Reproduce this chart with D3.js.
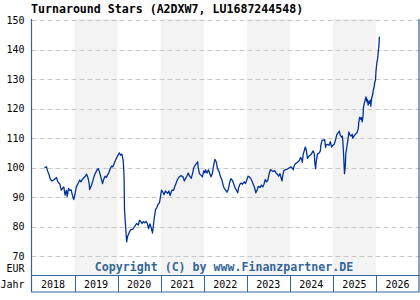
<!DOCTYPE html>
<html>
<head>
<meta charset="utf-8">
<script src="https://cdn.jsdelivr.net/npm/d3@7"></script>
<style>
  body { margin: 0; background: #fff; }
  text { font-family: "DejaVu Sans Mono", monospace; }
</style>
</head>
<body>
<div id="chart"></div>
<script>
// fund price (EUR), time as decimal years
const dates = [
  2018.30,2018.35,2018.37,2018.40,2018.44,2018.48,2018.53,2018.58,2018.61,2018.66,2018.69,2018.72,2018.75,2018.78,2018.81,2018.83,2018.86,2018.89,2018.92,2018.95,2018.98,
  2019.01,2019.04,2019.09,2019.12,2019.15,2019.18,2019.21,2019.25,2019.28,2019.31,2019.34,2019.35,2019.39,2019.42,2019.45,2019.48,2019.52,2019.55,2019.58,2019.62,2019.65,2019.68,2019.71,2019.74,2019.77,2019.79,2019.83,2019.86,2019.89,2019.92,2019.95,2019.98,
  2020.01,2020.04,2020.07,2020.10,2020.13,2020.15,2020.16,2020.20,2020.21,2020.23,2020.26,2020.30,2020.35,2020.40,2020.44,2020.48,2020.51,2020.54,2020.57,2020.60,2020.63,2020.66,2020.69,2020.72,2020.75,2020.78,2020.81,2020.85,2020.88,2020.91,2020.94,2020.97,2020.99,
  2021.02,2021.05,2021.08,2021.11,2021.16,2021.19,2021.22,2021.26,2021.30,2021.33,2021.36,2021.39,2021.43,2021.47,2021.52,2021.55,2021.58,2021.61,2021.64,2021.67,2021.71,2021.74,2021.77,2021.80,2021.83,2021.86,2021.87,2021.90,2021.94,2021.97,
  2022.00,2022.03,2022.04,2022.08,2022.11,2022.14,2022.17,2022.20,2022.23,2022.26,2022.29,2022.32,2022.36,2022.39,2022.42,2022.45,2022.48,2022.51,2022.54,2022.57,2022.60,2022.63,2022.66,2022.69,2022.73,2022.76,2022.79,2022.81,2022.84,2022.87,2022.90,2022.94,2022.97,
  2023.00,2023.03,2023.06,2023.09,2023.12,2023.15,2023.18,2023.21,2023.24,2023.27,2023.31,2023.34,2023.37,2023.40,2023.43,2023.46,2023.49,2023.52,2023.55,2023.58,2023.61,2023.65,2023.68,2023.71,2023.74,2023.77,2023.80,2023.82,2023.83,2023.86,2023.89,2023.92,2023.96,2023.99,
  2024.02,2024.05,2024.08,2024.10,2024.13,2024.16,2024.19,2024.22,2024.25,2024.28,2024.29,2024.31,2024.34,2024.36,2024.38,2024.40,2024.41,2024.44,2024.47,2024.50,2024.54,2024.57,2024.58,2024.60,2024.61,2024.64,2024.68,2024.71,2024.72,2024.75,2024.78,2024.81,2024.83,2024.84,2024.87,2024.91,2024.94,2024.97,
  2025.00,2025.03,2025.06,2025.09,2025.12,2025.15,2025.17,2025.20,2025.22,2025.23,2025.25,2025.26,2025.27,2025.29,2025.30,2025.33,2025.35,2025.37,2025.39,2025.42,2025.45,2025.46,2025.49,2025.52,2025.56,2025.59,2025.60,2025.62,2025.65,2025.66,2025.68,2025.70,2025.71,2025.73,2025.76,2025.77,2025.79,2025.80,2025.82,2025.84,2025.85,2025.87,2025.88,2025.90,2025.91,2025.93,2025.94,2025.96,2025.97,2025.99,
  2026.00,2026.02,2026.04,2026.05,2026.07,2026.08
];
const prices = [
  100,100.3,99,98,96,95.5,96,96.7,95.3,94.4,92.4,93,93.5,90.7,92.3,90.3,93,92.3,92.5,90.7,89.2,
  91,93.5,94.9,95.8,95.2,96,96.5,97.1,97.8,96.7,94.6,92.6,94,95.2,96.9,98,99.2,99.7,98.5,96.3,94.6,96.2,97.1,96.7,97.8,98,99.7,100.5,100.3,101.4,102.5,103.4,
  104.2,105,104.2,104.6,102.5,96.9,85.6,77.1,74.9,76.6,77.7,79,79.1,80.2,81.1,80.6,82.2,81.7,81.1,81.8,81.3,81.8,81.1,79.4,81,79.7,77.9,82.8,85.8,86.5,87.6,88,89.6,
  92.4,91.7,90.9,92.1,91.3,92.1,90.6,92.4,92.3,93.7,94.8,96,96.9,97.3,96.9,95.5,96.4,97.2,98.2,97.2,96.4,98,100,100.8,101.4,102,100.3,98,97.4,96.9,
  98.9,98.2,99.3,98.2,99.3,98,96.9,98,100.8,102.8,102,99.7,98.5,96.9,96,94.1,92.9,92.4,91.7,92.6,94.8,96.3,95.8,94.8,93.1,92.4,91.5,93.2,94.4,94.8,94.4,95.2,94.6,
  95.8,97.1,96.9,96.4,95.5,94.4,93.3,91.5,92.4,93.7,93.3,94.1,93.5,94.4,96,95.2,95.8,98,99.4,99,98.7,99,98.2,97.8,97.1,98,96.4,95.5,96.9,99,99.3,99.4,99.7,100,
  100.3,100,99.3,100.6,101.4,101.6,102,102.4,103.5,102.6,101.8,104.5,106,107,106.1,104.2,103.1,103.9,104.2,104.6,105.7,104.6,101.6,99.7,101.6,104.6,105,105.7,107.6,109.3,109.3,109.5,106.8,107.6,107.9,107.6,108.8,107,
  107.6,107.9,109.3,111.1,111.8,112.4,111.1,110.3,110.7,109.3,104.2,100.8,98,100.8,104.8,107.6,109.3,112.1,111.3,110.7,111.3,110,110.7,111.3,111.8,113.3,115.2,117,116.4,117,115.5,117.5,120.4,121.8,123.5,124,122.3,123.1,121.2,122.5,121.8,122.9,120.8,123.5,124,125.2,126.3,127.6,128.8,129.7,
  132.5,135.3,137,138.6,141.5,144.3
];

const yTicks = [70, 80, 90, 100, 110, 120, 130, 140, 150];
const years = [2018, 2019, 2020, 2021, 2022, 2023, 2024, 2025, 2026];
const shadedYears = [2019, 2021, 2023, 2025];

const title = "Turnaround Stars (A2DXW7, LU1687244548)";
const copyright = "Copyright (C) by www.Finanzpartner.DE";

// layout
const width = 420, height = 300;
const box = {left: 31.5, right: 419, top: 19, plotBottom: 275, bottom: 292};
const frameColor = "#336699";

const svg = d3.select("#chart")
  .append("svg")
  .attr("width", width)
  .attr("height", height);

const x = d3.scaleLinear().domain([2018, 2027]).range([box.left, box.right]);
const y = d3.scaleLinear().domain([70, 150]).range([256.3, 20]);

// alternating year bands
svg.append("g")
  .selectAll("rect")
  .data(shadedYears)
  .join("rect")
  .attr("x", d => x(d))
  .attr("y", box.top)
  .attr("width", d => x(d + 1) - x(d))
  .attr("height", box.plotBottom - box.top)
  .attr("fill", "#f3f3f3");

// dashed grid
svg.append("g")
  .selectAll("line")
  .data(yTicks)
  .join("line")
  .attr("x1", box.left)
  .attr("x2", box.right)
  .attr("y1", d => Math.round(y(d)) + 0.5)
  .attr("y2", d => Math.round(y(d)) + 0.5)
  .attr("stroke", "#c8c8c8")
  .attr("stroke-dasharray", "5,3");

// y labels on the left
svg.append("g")
  .attr("transform", `translate(${box.left},0)`)
  .call(d3.axisLeft(y).tickValues(yTicks).tickSize(0).tickPadding(7))
  .call(g => g.select(".domain").remove())
  .call(g => g.selectAll("text")
    .style("font-family", "'DejaVu Sans Mono', monospace")
    .style("font-size", "10px")
    .attr("fill", "#000"));

svg.append("text")
  .attr("x", 24.5)
  .attr("y", 271.5)
  .attr("text-anchor", "end")
  .style("font-size", "10px")
  .text("EUR");

// price line
const line = d3.line()
  .x(d => x(d[0]))
  .y(d => y(d[1]));

svg.append("path")
  .datum(d3.zip(dates, prices))
  .attr("fill", "none")
  .attr("stroke", "#003399")
  .attr("stroke-width", 1.3)
  .attr("stroke-linejoin", "round")
  .attr("d", line);

// copyright
svg.append("text")
  .attr("x", 224)
  .attr("y", 271)
  .attr("text-anchor", "middle")
  .attr("fill", frameColor)
  .style("font-size", "11.6px")
  .style("font-weight", "bold")
  .text(copyright);

// year row
svg.append("rect")
  .attr("x", box.left)
  .attr("y", box.plotBottom)
  .attr("width", box.right - box.left)
  .attr("height", box.bottom - box.plotBottom)
  .attr("fill", "#fff");

svg.append("g")
  .selectAll("line")
  .data(years.slice(1))
  .join("line")
  .attr("x1", d => Math.round(x(d)) + 0.5)
  .attr("x2", d => Math.round(x(d)) + 0.5)
  .attr("y1", box.plotBottom)
  .attr("y2", box.bottom)
  .attr("stroke", frameColor);

svg.append("g")
  .selectAll("text")
  .data(years)
  .join("text")
  .attr("x", d => x(d + 0.5))
  .attr("y", 288)
  .attr("text-anchor", "middle")
  .style("font-size", "10px")
  .text(d => d);

svg.append("text")
  .attr("x", 24.5)
  .attr("y", 288)
  .attr("text-anchor", "end")
  .style("font-size", "10px")
  .text("Jahr");

// frame
svg.append("path")
  .attr("d", `M${box.left},${box.top}V${box.bottom}H${box.right}V${box.top}`
    + `M${box.left},${box.plotBottom + 0.5}H${box.right}`)
  .attr("fill", "none")
  .attr("stroke", frameColor)
  .attr("stroke-width", 1.2);

// title
svg.append("text")
  .attr("x", 31)
  .attr("y", 12.5)
  .style("font-size", "11.6px")
  .style("font-weight", "bold")
  .text(title);
</script>
</body>
</html>
